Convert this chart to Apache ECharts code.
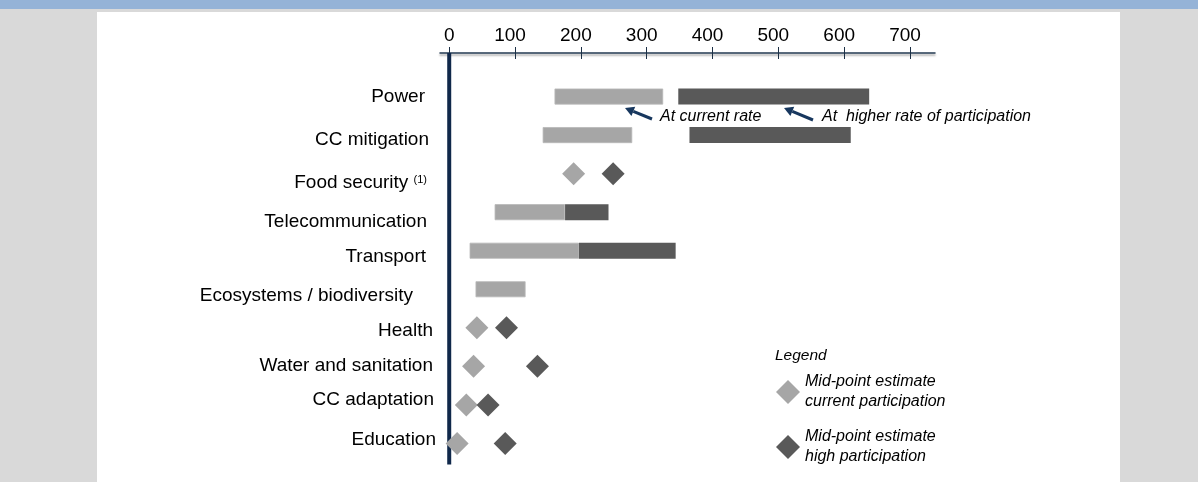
<!DOCTYPE html>
<html>
<head>
<meta charset="utf-8">
<script src="https://cdn.jsdelivr.net/npm/echarts@6/dist/echarts.min.js"></script>
<style>
  html, body { margin: 0; padding: 0; width: 1198px; height: 482px; overflow: hidden; background: #d9d9d9; }
  #band { position: absolute; left: 0; top: 0; width: 1198px; height: 9px; background: #95b3d7; }
  #panel { position: absolute; left: 97px; top: 12px; width: 1023px; height: 470px; background: #ffffff; }
  #chart { position: absolute; left: 0; top: 0; width: 1198px; height: 482px; }
</style>
</head>
<body>
<div id="band"></div>
<div id="panel"></div>
<div id="chart"></div>
<script>
// ---- data ----
var categories = ['Power', 'CC mitigation', 'Food security', 'Telecommunication', 'Transport',
  'Ecosystems / biodiversity', 'Health', 'Water and sanitation', 'CC adaptation', 'Education'];
// range at current rate of participation
var currentLow  = [160, 142, null, 69, 31, 40, null, null, null, null];
var currentHigh = [325, 278, null, 176, 197, 116, null, null, null, null];
// range at higher rate of participation
var highLow  = [348, 365, null, 176, 197, null, null, null, null, null];
var highHigh = [638, 610, null, 242, 344, null, null, null, null, null];
// mid-point estimates
var midCurrent = [null, null, 189, null, null, null, 42, 37, 26, 12];
var midHigh    = [null, null, 249, null, null, null, 87, 134, 59, 85];
var xTicks = [0, 100, 200, 300, 400, 500, 600, 700];

// ---- styles (label nudges: [top, right, bottom, left] padding) ----
var labelPad = [[0,11,0,0],[10,7,0,0],[18,0,0,0],[20,9,0,0],[12,10,0,0],[12,23,0,0],[6,3,0,0],[0,3,2,0],[0,2,10,0],[0,0,8,0]];
var LIGHT = '#a6a6a6', DARK = '#595959', NAVY = '#17375e';
var FONT = 'Liberation Sans, Arial, sans-serif';
var AXIS_OFFSET = 5;

function diff(a, b) { return a.map(function (v, i) { return (v == null || b[i] == null) ? null : v - b[i]; }); }
function pts(arr) { var r = []; arr.forEach(function (v, i) { if (v != null) r.push([v, i]); }); return r; }

var rich = {};
labelPad.forEach(function (p, i) {
  rich['c' + i] = { fontSize: 19, fontFamily: FONT, color: '#000', padding: p };
});
rich.sup = { fontSize: 11, fontFamily: FONT, color: '#000', padding: [12, 9, 0, 0] };
rich.t0 = { fontSize: 19, fontFamily: FONT, color: '#000' };
rich.t1 = { fontSize: 19, fontFamily: FONT, color: '#000', padding: [0, 10, 0, 0] };

function arrow(x1, y1, x2, y2) {
  var dx = x2 - x1, dy = y2 - y1, L = Math.sqrt(dx * dx + dy * dy);
  var ux = dx / L, uy = dy / L, hl = 9, hw = 5;
  var bx = x2 - ux * hl, by = y2 - uy * hl;
  return [
    { type: 'line', silent: true, shape: { x1: x1, y1: y1, x2: bx, y2: by }, style: { stroke: NAVY, lineWidth: 3 } },
    { type: 'polygon', silent: true, shape: { points: [[x2, y2], [bx - uy * hw, by + ux * hw], [bx + uy * hw, by - ux * hw]] }, style: { fill: NAVY } }
  ];
}

var chart = echarts.init(document.getElementById('chart'), null, { renderer: 'canvas' });
var option = {
  backgroundColor: 'transparent',
  animation: false,
  title: {
    text: 'Legend', left: 770, top: 343,
    textStyle: { fontSize: 15.5, fontStyle: 'italic', fontWeight: 'normal', color: '#000', fontFamily: FONT }
  },
  legend: {
    orient: 'vertical', left: 771, top: 367,
    data: ['Mid-point estimate\ncurrent participation', 'Mid-point estimate\nhigh participation'],
    icon: 'diamond', itemWidth: 24, itemHeight: 24, itemGap: 15,
    selectedMode: false,
    textStyle: { fontSize: 16, fontStyle: 'italic', color: '#000', lineHeight: 20, fontFamily: FONT }
  },
  grid: { left: 440, right: 263, top: 58, bottom: -5, containLabel: false },
  xAxis: [{
    type: 'value', position: 'top', offset: AXIS_OFFSET, min: -14, max: 738,
    axisLine: { show: true, lineStyle: { color: '#233a52', width: 1.5, shadowColor: 'rgba(0,0,0,0.35)', shadowOffsetY: 2, shadowBlur: 2 } },
    axisTick: { show: true, inside: true, length: 6, customValues: xTicks, lineStyle: { color: '#1c2f45', width: 1 } },
    axisLabel: {
      show: true, margin: 8, customValues: xTicks,
      formatter: function (v) { return v === 0 ? '{t0|0}' : '{t1|' + v + '}'; },
      rich: rich
    },
    splitLine: { show: false }
  }, {
    type: 'value', position: 'top', offset: AXIS_OFFSET, min: -14, max: 738,
    axisLine: { show: false },
    axisTick: { show: true, inside: false, length: 6, customValues: xTicks, lineStyle: { color: '#1c2f45', width: 1 } },
    axisLabel: { show: false },
    splitLine: { show: false }
  }],
  yAxis: {
    type: 'category', inverse: true, data: categories, boundaryGap: false, min: -1, max: 10,
    axisLine: { show: false },
    axisTick: { show: false },
    splitLine: { show: false },
    axisLabel: {
      interval: 0, margin: 4,
      formatter: function (value) {
        var i = categories.indexOf(value);
        if (i < 0) return '';
        if (value === 'Food security') return '{c' + i + '|Food security }{sup|(1)}';
        return '{c' + i + '|' + value + '}';
      },
      rich: rich
    }
  },
  series: [
    { type: 'custom', silent: true, clip: false, z: 3, data: [[0, 0]],
      renderItem: function (params, api) {
        var top = api.coord([0, -1]);
        var last = api.coord([0, categories.length - 1]);
        return { type: 'line', shape: { x1: top[0], y1: top[1] - AXIS_OFFSET, x2: last[0], y2: last[1] + 21 },
          style: { stroke: '#10284a', lineWidth: 4 } };
      } },
    { type: 'bar', stack: 'cur', barWidth: 16, barGap: '-100%', silent: true, data: currentLow, itemStyle: { color: 'transparent' } },
    { type: 'bar', stack: 'cur', barWidth: 16, barGap: '-100%', silent: true, data: diff(currentHigh, currentLow), itemStyle: { color: LIGHT, borderColor: '#b8b8b8', borderWidth: 0.8 } },
    { type: 'bar', stack: 'hi', barWidth: 16, barGap: '-100%', silent: true, data: highLow, itemStyle: { color: 'transparent' } },
    { type: 'bar', stack: 'hi', barWidth: 16, barGap: '-100%', silent: true, data: diff(highHigh, highLow), itemStyle: { color: DARK } },
    { name: 'Mid-point estimate\ncurrent participation', type: 'scatter', symbol: 'diamond', symbolSize: 23, silent: true, z: 4,
      data: pts(midCurrent), itemStyle: { color: LIGHT, opacity: 1 } },
    { name: 'Mid-point estimate\nhigh participation', type: 'scatter', symbol: 'diamond', symbolSize: 23, silent: true, z: 5,
      data: pts(midHigh), itemStyle: { color: DARK, opacity: 1 } }
  ],
  graphic: [].concat(
    arrow(652, 119, 625, 108),
    arrow(813, 120, 784, 108),
    [
      { type: 'text', silent: true, left: 660, top: 109, style: { text: 'At current rate', fontSize: 16, fontStyle: 'italic', fill: '#000', fontFamily: FONT } },
      { type: 'text', silent: true, left: 822, top: 109, style: { text: 'At  higher rate of participation', fontSize: 16, fontStyle: 'italic', fill: '#000', fontFamily: FONT } }
    ]
  )
};
chart.setOption(option);
</script>
</body>
</html>
